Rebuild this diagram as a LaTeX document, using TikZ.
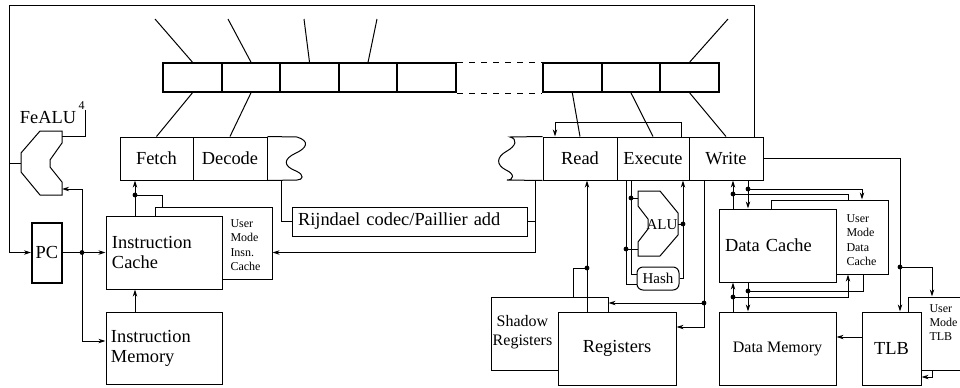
\documentclass[tikz,border=0pt]{standalone}
\usepackage{fontspec}
\setmainfont{Liberation Serif}
\usetikzlibrary{arrows.meta,calc}

\begin{document}
\begin{tikzpicture}[x=0.5pt, y=-0.5pt, line width=0.5pt,
    >={Stealth[length=3.5pt,width=2.2pt]},
    every node/.style={font=\fontsize{9.2}{10}\selectfont},
    reg/.style={rectangle, draw, line width=1pt, minimum width=29.3pt,
        minimum height=14.5pt, inner sep=0pt},
    stage/.style={rectangle, draw, minimum height=21.5pt, inner sep=0pt},
    box/.style={rectangle, draw, fill=white, minimum height=36.5pt,
        inner sep=0pt, align=center},
    lbox/.style={box, align=left, inner xsep=3pt},
    smalltxt/.style={font=\fontsize{6}{7.2}\selectfont, align=left, inner sep=0pt},
    midtxt/.style={font=\fontsize{8}{9.5}\selectfont},
    tinytxt/.style={font=\fontsize{7.5}{8}\selectfont, inner sep=0pt},
]
\useasboundingbox (0,0) rectangle (960,387);

% Register bar
\foreach \i in {1,...,5}
    \node[reg] (r\i) at ({163+58.6*(\i-0.5)},77.5) {};
\foreach \i/\n in {1/6,2/7,3/8}
    \node[reg] (r\n) at ({543+58.7*(\i-0.5)},77.5) {};
\draw[dashed] (r5.north east) -- (r6.north west);
\draw[dashed] (r5.south east) -- (r6.south west);

% Inputs of the register bar
\coordinate (in1) at (155,19);
\coordinate (in2) at (228,19);
\coordinate (in3) at (304,19);
\coordinate (in4) at (377,19);
\coordinate (in8) at (728,19);
\foreach \i in {1,2,3,4,8}
    \draw (in\i) -- (r\i.north);

% Pipeline stages
\node[stage, minimum width=36.5pt] (fetch) at (156.5,158.5) {Fetch};
\node[stage, minimum width=37pt] (decode) at (230,158.5) {Decode};
\node[stage, minimum width=37pt] (read) at (580,158.5) {Read};
\node[stage, minimum width=36pt] (execute) at (653,158.5) {Execute};
\node[stage, minimum width=37pt] (write) at (726,158.5) {Write};
\draw (decode.north east) -- (297,137) .. controls (310,141) and (307,148) .. (296,153)
    .. controls (283,159) and (283,166) .. (296,171)
    .. controls (305,175) and (303,180) .. (297,180) -- (decode.south east);
\draw (read.north west) -- (510,137) .. controls (518,139) and (516,146) .. (507,151)
    .. controls (496,157) and (496,165) .. (506,170)
    .. controls (515,174) and (514,180) .. (507,180) -- (read.south west);
\foreach \a/\b in {r1/fetch,r2/decode,r6/read,r7/execute,r8/write}
    \draw (\a.south) -- (\b.north);

% Fetch side
\node[rectangle, draw, line width=1pt, minimum width=15pt, minimum height=30pt,
    inner sep=0pt] (pc) at (47,252.5) {PC};
\node[box, minimum width=58.5pt, minimum height=36pt] (umic) at (213.5,243) {};
\node[smalltxt, anchor=west] (umictxt) at (230,245) {User\\Mode\\Insn.\\Cache};
\node[lbox, text width=52pt] (ic) at (164,252.5) {Instruction\\Cache};
\node[box, align=left, inner xsep=2.5pt, text width=53pt, minimum height=36pt]
    (imem) at (164,348) {Instruction\\Memory};

% FeALU
\draw (62,131) -- (40,131) -- (21,153) -- (21,172) -- (40,195) -- (62,195)
    -- (62,182) -- (50,167) -- (50,160) -- (62,143) -- cycle;
\coordinate (fe-in1) at (62,136);
\coordinate (fe-in2) at (62,189);
\coordinate (fe-out) at (21,163);
\coordinate (fe-cnt) at (85,110);
\node (fealu) at (48,118) {FeALU};
\node[smalltxt, anchor=south east] (cnt) at (fe-cnt) {4};
\draw (fe-in1) -| (fe-cnt);

% Loop back to the PC
\coordinate (loopr) at (754,5);
\coordinate (loopl) at (9,5);
\draw[->] (write.north -| loopr) -- (loopr) -- (loopl) |- (pc.west);
\draw (fe-out) -- (fe-out -| loopl);

% PC and instruction caches
\coordinate (pcdot) at (82,252.5);
\coordinate (icx) at (135,195);
\draw[->] (pc.east) -- (ic.west);
\draw[->] (pcdot) |- ([yshift=3.5pt]imem.west);
\draw[->] (pcdot) |- (fe-in2);
\draw[->] (imem.north -| icx) -- (ic.south -| icx);
\draw[->] (ic.north -| icx) -- (fetch.south -| icx);
\draw (icx) -| ([xshift=4pt]umic.north west);
\fill (pcdot) circle (1.2pt);
\fill (icx) circle (1.2pt);

% Rijndael unit
\node[rectangle, draw, minimum height=14.5pt, inner xsep=3pt, inner ysep=0pt,
    text width=111.5pt, align=left] (rijn) at (409.5,221.5) {Rijndael codec/Paillier add};
\coordinate (rjl) at (281,180);
\coordinate (rjr) at (535,180);
\draw (rjl) |- (rijn.west);
\draw (rijn.east) -- (rijn.east -| rjr);
\draw[->] (rjr) |- (umic.east |- pc.east);

% Read feedback
\coordinate (fb) at (681,122);
\coordinate (fbl) at (555,122);
\draw[->] (execute.north -| fb) -- (fb) -- (fbl) -- (fbl |- read.north);

% Registers
\node[box, minimum width=58.5pt] (shadow) at (549.5,333.5) {};
\node[midtxt, inner sep=0pt, align=center] (shtxt) at (522.5,332) {Shadow\\Registers};
\node[box, minimum width=59pt] (regs) at (617,348.5) {Registers};
\coordinate (rgx) at (587,268);
\coordinate (shx) at (573,268);
\draw[->] (regs.north -| rgx) -- (read.south -| rgx);
\draw (rgx) -- (shx) -- (shx |- shadow.north);
\fill (rgx) circle (1.2pt);
\coordinate (wr) at (704,327);
\coordinate (wsh) at (704,303);
\draw[->] (write.south -| wr) -- (wr) -- (wr -| regs.east);
\draw[->] (wsh) -- (wsh -| shadow.east);
\fill (wsh) circle (1.2pt);

% ALU and hash in the execute stage
\draw (638,191) -- (660,191) -- (678,213) -- (678,235) -- (660,256) -- (638,256)
    -- (638,242) -- (648,229) -- (648,219) -- (638,206) -- cycle;
\node[tinytxt] (alu) at (662,225) {ALU};
\node[rectangle, draw, rounded corners=3pt, tinytxt, minimum width=21pt,
    minimum height=11.5pt] (hash) at (658,278.5) {Hash};
\coordinate (ea) at (631,274);
\coordinate (eb) at (626,284);
\coordinate (alu-a) at (638,198);
\coordinate (alu-b) at (638,249);
\coordinate (alu-o) at (678,224);
\coordinate (ho) at (683,224);
\draw (execute.south -| ea) -- (ea) -- (ea -| hash.west);
\draw (execute.south -| eb) -- (eb) -- (eb -| hash.west);
\draw (ea |- alu-a) -- (alu-a);
\draw (eb |- alu-b) -- (alu-b);
\draw[->] (hash.east) -| (ho |- execute.south);
\draw (alu-o) -- (ho);
\fill (ea |- alu-a) circle (1.2pt);
\fill (eb |- alu-b) circle (1.2pt);
\fill (ho) circle (1.2pt);

% Data caches
\node[box, minimum width=58.5pt, minimum height=37pt] (umdc) at (829.5,237) {};
\node[smalltxt, anchor=west] (umdctxt) at (846,240) {User\\Mode\\Data\\Cache};
\node[lbox, text width=52.5pt] (dcache) at (777.5,245.5) {Data Cache};
\node[box, midtxt, minimum width=58.5pt] (dmem) at (777.5,348.5) {Data Memory};
\coordinate (dwa) at (733,194);
\coordinate (dwb) at (748,189);
\coordinate (dwa2) at (848,194);
\coordinate (dwb2) at (862,189);
\draw[->] (dcache.north -| dwa) -- (write.south -| dwa);
\draw[->] (write.south -| dwb) -- (dcache.north -| dwb);
\draw (dwa) -- (dwa2) -- (dwa2 |- umdc.north);
\draw[->] (dwb) -- (dwb2) -- (dwb2 |- umdc.north);
\fill (dwa) circle (1.2pt);
\fill (dwb) circle (1.2pt);
\coordinate (dma) at (733,297);
\coordinate (dmb) at (748,291);
\coordinate (dma2) at (848,297);
\coordinate (dmb2) at (863,291);
\draw[->] (dmem.north -| dma) -- (dcache.south -| dma);
\draw[->] (dcache.south -| dmb) -- (dmem.north -| dmb);
\draw[->] (dma) -- (dma2) -- (dma2 |- umdc.south);
\draw (dmb) -- (dmb2) -- (dmb2 |- umdc.south);
\fill (dma) circle (1.2pt);
\fill (dmb) circle (1.2pt);

% TLB
\node[box, minimum width=27pt] (umtlb) at (935,333.5) {};
\node[smalltxt, anchor=west] (umtlbtxt) at (929,322.5) {User\\Mode\\TLB};
\node[box, minimum width=29.5pt] (tlb) at (891.5,348.5) {TLB};
\coordinate (tl) at (900,267);
\coordinate (tl2) at (932,267);
\coordinate (tm) at (862,337);
\coordinate (ut) at (932,377);
\draw[->] (write.east) -| (tlb.north -| tl);
\draw[->] (tl) -- (tl2) -- (tl2 |- umtlb.north);
\fill (tl) circle (1.2pt);
\draw[->] (tlb.west |- tm) -- (dmem.east |- tm);
\draw[->] (umtlb.south -| ut) -- (ut) -- (ut -| tlb.east);

\end{tikzpicture}
\end{document}
